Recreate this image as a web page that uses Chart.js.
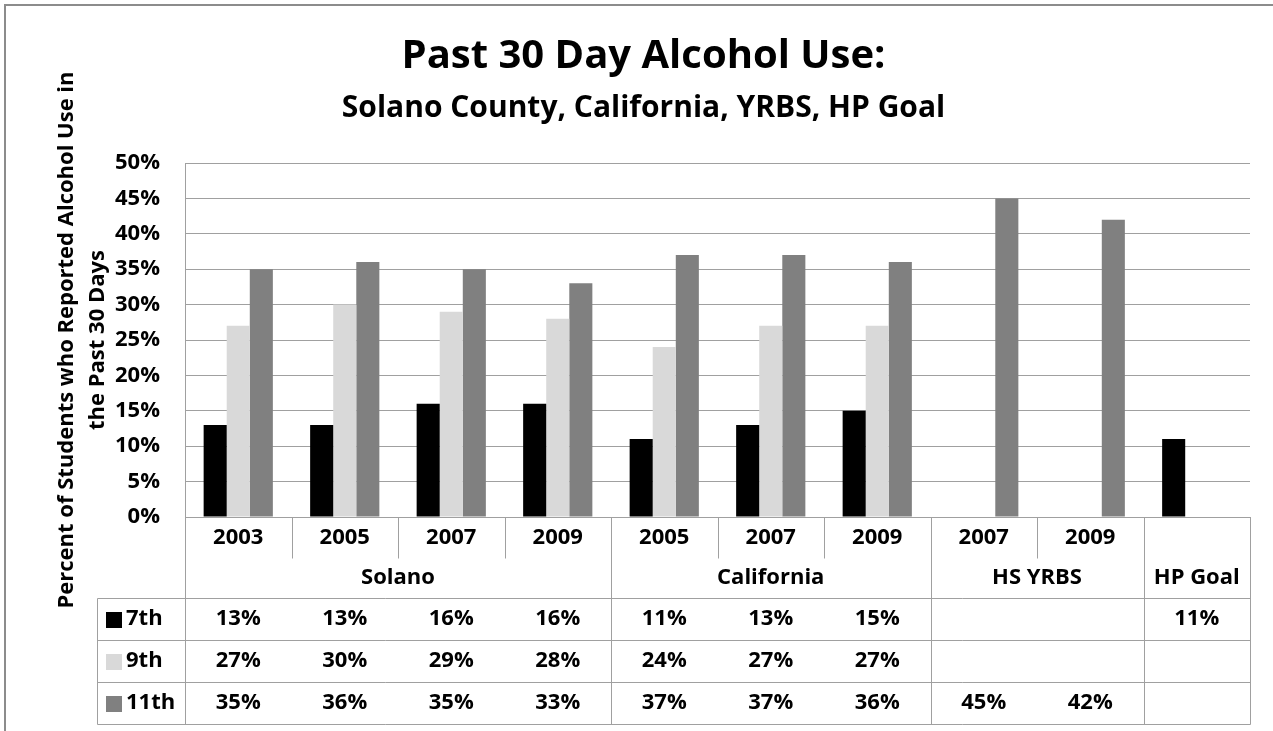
<!DOCTYPE html>
<html>
<head>
<meta charset="utf-8">
<title>Past 30 Day Alcohol Use</title>
<script src="https://cdn.jsdelivr.net/npm/chart.js@4.4.1/dist/chart.umd.min.js"></script>
<style>
  body { margin: 0; background: #fff; }
  canvas { display: block; }
</style>
</head>
<body>
<canvas id="chart" width="1273" height="731"></canvas>
<script>
// categories: year under each bar group, and the source group it belongs to
const years = ['2003', '2005', '2007', '2009', '2005', '2007', '2009', '2007', '2009', ''];
const groupNames = ['Solano', 'California', 'HS YRBS', 'HP Goal'];
const groupSizes = [4, 3, 2, 1];

// percent of students, by grade
const grade7 = [13, 13, 16, 16, 11, 13, 15, null, null, 11];
const grade9 = [27, 30, 29, 28, 24, 27, 27, null, null, null];
const grade11 = [35, 36, 35, 33, 37, 37, 36, 45, 42, null];

const seriesNames = ['7th', '9th', '11th'];
const seriesColors = ['#000000', '#d9d9d9', '#808080'];

const yTicks = [0, 5, 10, 15, 20, 25, 30, 35, 40, 45, 50];

const FONT = '"Open Sans", "Liberation Sans", sans-serif';
const GRID = '#a0a0a0';

// frame around the picture (only left and top show)
const framePlugin = {
  id: 'frame',
  beforeDraw(chart) {
    const ctx = chart.ctx;
    ctx.save();
    ctx.fillStyle = '#fff';
    ctx.fillRect(0, 0, chart.width, chart.height);
    ctx.strokeStyle = '#8c8c8c';
    ctx.lineWidth = 2;
    ctx.beginPath();
    ctx.moveTo(5, chart.height);
    ctx.lineTo(5, 5);
    ctx.lineTo(chart.width, 5);
    ctx.stroke();
    ctx.restore();
  }
};

// data table under the plot, laid out on the x scale
const tablePlugin = {
  id: 'dataTable',
  afterDraw(chart) {
    const ctx = chart.ctx;
    const x = chart.scales.x;
    const area = chart.chartArea;
    const n = years.length;
    const colW = (area.right - area.left) / n;
    const top = area.bottom;
    const yearBottom = top + 41;
    const groupBottom = top + 81;
    const rowH = 42;
    const tableBottom = groupBottom + rowH * 3;
    const legendLeft = 97;
    const edge = i => (i === n ? area.right : x.getPixelForValue(i) - colW / 2);

    ctx.save();
    ctx.strokeStyle = GRID;
    ctx.lineWidth = 1;
    const line = (x1, y1, x2, y2) => {
      ctx.beginPath();
      ctx.moveTo(Math.round(x1) + 0.5, Math.round(y1) + 0.5);
      ctx.lineTo(Math.round(x2) + 0.5, Math.round(y2) + 0.5);
      ctx.stroke();
    };

    // vertical lines: short ones inside a group, full ones between groups
    let start = 0;
    const groupStarts = [];
    groupSizes.forEach(s => { groupStarts.push(start); start += s; });
    for (let i = 0; i <= n; i++) {
      const full = i === n || groupStarts.includes(i);
      line(edge(i), top, edge(i), full ? tableBottom : yearBottom);
    }
    line(legendLeft, groupBottom, legendLeft, tableBottom);

    // horizontal lines
    for (let r = 0; r <= 3; r++) {
      const py = groupBottom + r * rowH;
      line(legendLeft, py, area.right, py);
    }

    ctx.fillStyle = '#000';
    ctx.font = 'bold 22px ' + FONT;
    ctx.textAlign = 'center';
    ctx.textBaseline = 'middle';

    // year row
    years.forEach((yr, i) => ctx.fillText(yr, x.getPixelForValue(i), top + 21));

    // group row
    groupNames.forEach((g, k) => {
      const a = edge(groupStarts[k]);
      const b = edge(groupStarts[k] + groupSizes[k]);
      ctx.fillText(g, (a + b) / 2, top + 61);
    });

    // value rows with legend keys
    [grade7, grade9, grade11].forEach((vals, r) => {
      const cy = groupBottom + r * rowH + rowH / 2;
      vals.forEach((v, i) => {
        if (v !== null) ctx.fillText(v + '%', x.getPixelForValue(i), cy);
      });
      ctx.fillStyle = seriesColors[r];
      ctx.fillRect(106, cy - 7, 16, 16);
      ctx.fillStyle = '#000';
      ctx.textAlign = 'left';
      ctx.fillText(seriesNames[r], 126, cy);
      ctx.textAlign = 'center';
    });
    ctx.restore();
  }
};

new Chart(document.getElementById('chart'), {
  type: 'bar',
  data: {
    labels: years,
    datasets: [
      { label: seriesNames[0], data: grade7, backgroundColor: seriesColors[0] },
      { label: seriesNames[1], data: grade9, backgroundColor: seriesColors[1] },
      { label: seriesNames[2], data: grade11, backgroundColor: seriesColors[2] }
    ]
  },
  options: {
    responsive: false,
    animation: false,
    layout: { padding: { left: 37, right: 23, top: 0, bottom: 0 } },
    datasets: { bar: { categoryPercentage: 0.65, barPercentage: 1.0 } },
    plugins: {
      legend: { display: false },
      tooltip: { enabled: false },
      title: {
        display: true,
        text: 'Past 30 Day Alcohol Use:',
        color: '#000',
        font: { family: FONT, size: 40, weight: 'bold', lineHeight: 1.2 },
        padding: { top: 32.5, bottom: 4 }
      },
      subtitle: {
        display: true,
        text: 'Solano County, California, YRBS, HP Goal',
        color: '#000',
        font: { family: FONT, size: 30, weight: 'bold', lineHeight: 1.2 },
        padding: { top: 5.5, bottom: 37 }
      }
    },
    scales: {
      x: {
        grid: { display: false, drawTicks: false },
        border: { color: GRID },
        ticks: { display: false },
        afterFit(scale) { scale.height = 214; }
      },
      y: {
        min: 0,
        max: 50,
        afterBuildTicks(scale) { scale.ticks = yTicks.map(v => ({ value: v })); },
        grid: { color: GRID, drawTicks: false },
        border: { color: GRID },
        ticks: {
          color: '#000',
          padding: 25,
          font: { family: FONT, size: 22, weight: 'bold' },
          callback: v => v + '%'
        },
        title: {
          display: true,
          text: ['Percent of Students who Reported Alcohol Use in', 'the Past 30 Days'],
          color: '#000',
          font: { family: FONT, size: 22, weight: 'bold', lineHeight: 1.41 },
          padding: { top: 14.5 }
        },
        afterFit(scale) { scale.width = 148; }
      }
    }
  },
  plugins: [framePlugin, tablePlugin]
});
</script>
</body>
</html>
